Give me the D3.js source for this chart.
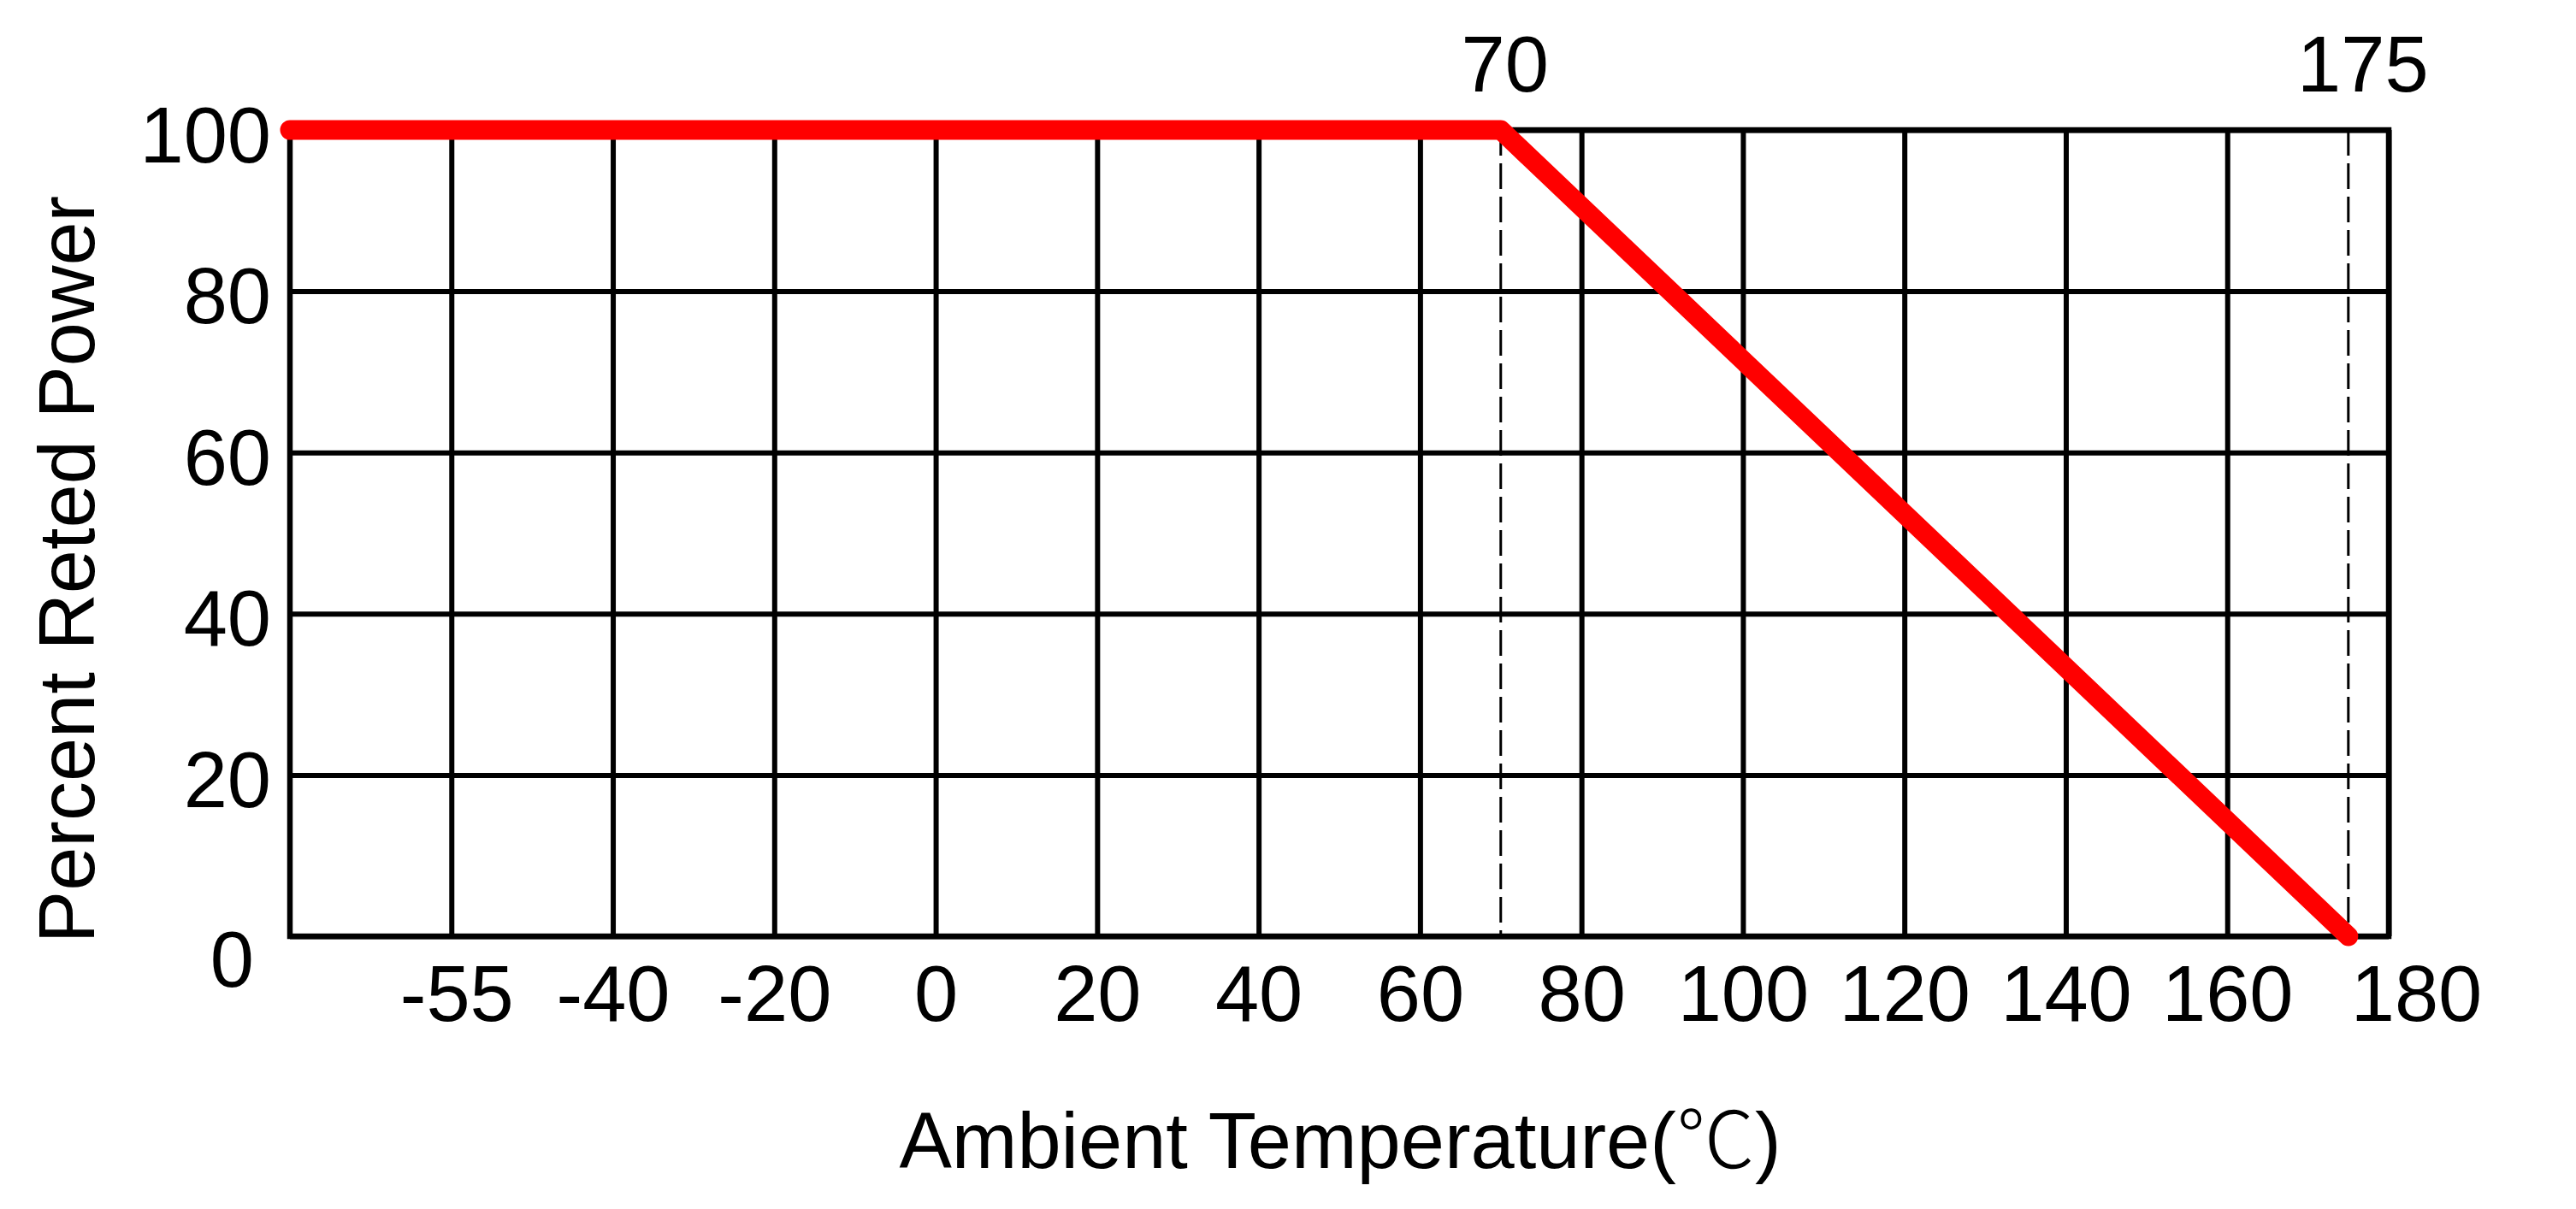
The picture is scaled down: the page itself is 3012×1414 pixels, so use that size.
<!DOCTYPE html>
<html>
<head>
<meta charset="utf-8">
<script src="https://cdn.jsdelivr.net/npm/d3@7"></script>
<style>
  html, body { margin: 0; padding: 0; background: #fff; }
  svg { display: block; }
  text { font-family: "Liberation Sans", Arial, "DejaVu Sans", "Noto Sans CJK SC", sans-serif; fill: #000; }
</style>
</head>
<body>
<svg id="chart" width="3012" height="1414"></svg>
<script>
// ---- data ----
const xLeftEdge = -70;                       // unlabeled left border of the grid
const xTickValues = [-55, -40, -20, 0, 20, 40, 60, 80, 100, 120, 140, 160, 180];
const yTickValues = [0, 20, 40, 60, 80, 100];
const markerTemps = [70, 175];               // dashed reference lines, labels on top
const curveTemps  = [xLeftEdge, 70, 175];
const curvePower  = [100, 100, 0];
const xTitleParts = ["Ambient Temperature(", "\u2103", ")"];
const yTitle = "Percent Reted Power";

// ---- layout ----
const W = 3012, H = 1414;
const plotL = 339, plotR = 2793, plotT = 152, plotB = 1095;
const fontSize = 92;

const svg = d3.select("#chart");
svg.append("rect").attr("width", W).attr("height", H).attr("fill", "#fff");

// grid is evenly spaced per tick (polylinear scale)
const xDomain = [xLeftEdge].concat(xTickValues);
const step = (plotR - plotL) / (xDomain.length - 1);
const x = d3.scaleLinear()
  .domain(xDomain)
  .range(xDomain.map((d, i) => plotL + i * step));
const y = d3.scaleLinear().domain([0, 100]).range([plotB, plotT]);

// x axis with vertical grid lines
const gx = svg.append("g")
  .attr("transform", `translate(0,${plotB})`)
  .call(d3.axisBottom(x).tickValues(xTickValues).tickSize(-(plotB - plotT)).tickFormat(d => String(d)));
gx.select(".domain").remove();
gx.selectAll(".tick line").attr("stroke", "#000").attr("stroke-width", 6);
gx.selectAll(".tick text")
  .attr("y", 99).attr("dy", null)
  .attr("dx", d => d === 180 ? 32 : (d === -55 ? 6 : 0))
  .style("font-size", fontSize + "px")
  .style("font-family", "'Liberation Sans', Arial, sans-serif")
  .attr("fill", "#000");

// y axis with horizontal grid lines
const gy = svg.append("g")
  .attr("transform", `translate(${plotL},0)`)
  .call(d3.axisLeft(y).tickValues(yTickValues).tickSize(-(plotR - plotL)).tickFormat(d => String(d)));
gy.select(".domain").remove();
gy.selectAll(".tick line").attr("stroke", "#000").attr("stroke-width", 6);
gy.selectAll(".tick text")
  .attr("x", d => d === 0 ? -42 : -22)
  .attr("dy", null)
  .attr("y", d => d === 0 ? 58 : 37)
  .style("font-size", fontSize + "px")
  .style("font-family", "'Liberation Sans', Arial, sans-serif")
  .attr("fill", "#000");

// plot border
svg.append("rect")
  .attr("x", plotL).attr("y", plotT)
  .attr("width", plotR - plotL).attr("height", plotB - plotT)
  .attr("fill", "none").attr("stroke", "#000").attr("stroke-width", 6.5);

// dashed reference lines
svg.append("g").selectAll("line").data(markerTemps).join("line")
  .attr("x1", d => x(d)).attr("x2", d => x(d))
  .attr("y1", plotT).attr("y2", plotB)
  .attr("stroke", "#000").attr("stroke-width", 3)
  .attr("stroke-dasharray", "30,9");

// marker labels above plot
svg.append("g").selectAll("text").data(markerTemps).join("text")
  .attr("x", d => x(d) + (d === 175 ? 17 : 5))
  .attr("y", 107)
  .attr("text-anchor", "middle")
  .style("font-size", fontSize + "px")
  .text(d => String(d));

// derating curve
const pts = curveTemps.map((t, i) => [t, curvePower[i]]);
svg.append("path")
  .datum(pts)
  .attr("d", d3.line().x(d => x(d[0])).y(d => y(d[1])))
  .attr("fill", "none")
  .attr("stroke", "#ff0000")
  .attr("stroke-width", 23)
  .attr("stroke-linecap", "round")
  .attr("stroke-linejoin", "round");

// axis titles
const xt = svg.append("text")
  .attr("x", 1567).attr("y", 1366)
  .attr("text-anchor", "middle")
  .style("font-size", fontSize + "px");
xt.selectAll("tspan").data(xTitleParts).join("tspan")
  .style("font-family", (d, i) => i === 1 ? "'Noto Sans CJK SC', 'DejaVu Sans', sans-serif" : "'Liberation Sans', Arial, sans-serif")
  .style("font-weight", (d, i) => i === 1 ? 300 : 400)
  .text(d => d);

svg.append("text")
  .attr("transform", "translate(110,666) rotate(-90)")
  .attr("text-anchor", "middle")
  .style("font-size", fontSize + "px")
  .text(yTitle);
</script>
</body>
</html>
